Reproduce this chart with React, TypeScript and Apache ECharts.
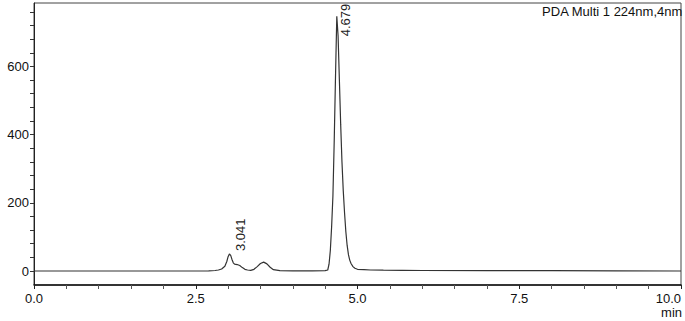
import React, { useEffect, useRef } from "react";
import * as echarts from "echarts";

const times = [
  0, 0.5, 1.0, 1.5, 2.0, 2.5, 2.7, 2.8, 2.85, 2.9, 2.95, 2.98, 3.0, 3.02, 3.04, 3.06, 3.08, 3.1,
  3.14, 3.18, 3.22, 3.26, 3.3, 3.35, 3.4, 3.45, 3.5, 3.55, 3.6, 3.65, 3.7, 3.8, 4.0, 4.3, 4.5,
  4.54, 4.56, 4.58, 4.6, 4.62, 4.64, 4.66, 4.68, 4.7, 4.72, 4.74, 4.76, 4.78, 4.8, 4.82, 4.84,
  4.86, 4.88, 4.9, 4.93, 4.96, 5.0, 5.1, 5.2, 5.4, 5.7, 6.0, 7.0, 8.0, 9.0, 10.0,
];
const signal = [
  0, 0, 0, 0, 0, 0, 0.5, 1.5, 3, 6, 14, 28, 42, 50, 46, 34, 24, 20,
  19, 16, 10, 5, 3, 2, 5, 13, 22, 26, 21, 11, 4, 1, 0.5, 0.5, 1,
  3, 20, 60, 130, 220, 380, 570, 747, 690, 560, 430, 320, 235, 170, 115, 75,
  48, 32, 22, 13, 8, 5, 4, 3, 2.5, 2, 1.5, 1, 1, 0.5, 0,
];
const peakTimes = [3.041, 4.679];
const peakHeights = [50, 747];
const peakLabels = ["3.041", "4.679"];
const yTickValues = [0, 40, 80, 120, 160, 200, 240, 280, 320, 360, 400, 440, 480, 520, 560, 600, 640, 680, 720, 760];
const yLabelValues = [0, 200, 400, 600];
const detectorLabel = "PDA Multi 1 224nm,4nm";
const xUnit = "min";

const font = "Arial, 'Liberation Sans', sans-serif";

export default function App() {
  const ref = useRef<HTMLDivElement>(null);
  useEffect(() => {
    if (!ref.current) return;
    const chart = echarts.init(ref.current, null, { renderer: "svg" });
    const data = times.map((t, i) => [t, signal[i]]);
    // offsets in the rotated label frame: [-screenDy, screenDx]
    const labelOffsets = [
      [3, 10],
      [-20, 9],
    ];
    chart.setOption({
      animation: false,
      backgroundColor: "#ffffff",
      grid: {
        left: 34,
        right: 4,
        top: 3,
        bottom: 36,
        show: true,
        borderColor: "#444",
        borderWidth: 1,
        containLabel: false,
        outerBoundsMode: "none",
      },
      xAxis: {
        type: "value",
        min: 0,
        max: 10,
        interval: 2.5,
        axisLine: { show: true, onZero: false, lineStyle: { color: "#111", width: 1.5 } },
        axisTick: { show: true, length: 4, lineStyle: { color: "#222" } },
        minorTick: { show: true, splitNumber: 5, length: 4, lineStyle: { color: "#555" } },
        splitLine: { show: false },
        axisLabel: {
          formatter: (v: number) => v.toFixed(1),
          fontSize: 13,
          color: "#111",
          fontFamily: font,
          margin: 7,
          showMaxLabel: true,
          showMinLabel: true,
          alignMaxLabel: "right",
        },
      },
      yAxis: {
        type: "value",
        min: -41,
        max: 786,
        axisLine: { show: true, onZero: false, lineStyle: { color: "#222", width: 1 } },
        axisTick: { show: true, length: 4, customValues: yTickValues, lineStyle: { color: "#333" } },
        splitLine: { show: false },
        axisLabel: { customValues: yLabelValues, fontSize: 13, color: "#111", fontFamily: font, margin: 5 },
      },
      series: [
        {
          type: "line",
          data,
          showSymbol: false,
          symbol: "none",
          lineStyle: { color: "#333", width: 1.2 },
          markPoint: {
            symbol: "circle",
            symbolSize: 0,
            data: peakTimes.map((t, i) => ({
              coord: [t, peakHeights[i]],
              value: peakLabels[i],
              label: {
                show: true,
                formatter: peakLabels[i],
                position: "inside",
                rotate: 90,
                align: "left",
                verticalAlign: "middle",
                offset: labelOffsets[i],
                fontSize: 13,
                color: "#222",
                fontFamily: font,
              },
            })),
          },
        },
      ],
      graphic: [
        {
          type: "text",
          right: 2,
          top: 5,
          style: { text: detectorLabel, fontSize: 13, fill: "#111", fontFamily: font },
        },
        {
          type: "text",
          right: 3,
          top: 306,
          style: { text: xUnit, fontSize: 13, fill: "#111", fontFamily: font },
        },
      ],
    });
    return () => chart.dispose();
  }, []);
  return (
    <div
      ref={ref}
      style={{ position: "fixed", left: 0, top: 0, width: 685, height: 321, background: "#fff" }}
    />
  );
}
